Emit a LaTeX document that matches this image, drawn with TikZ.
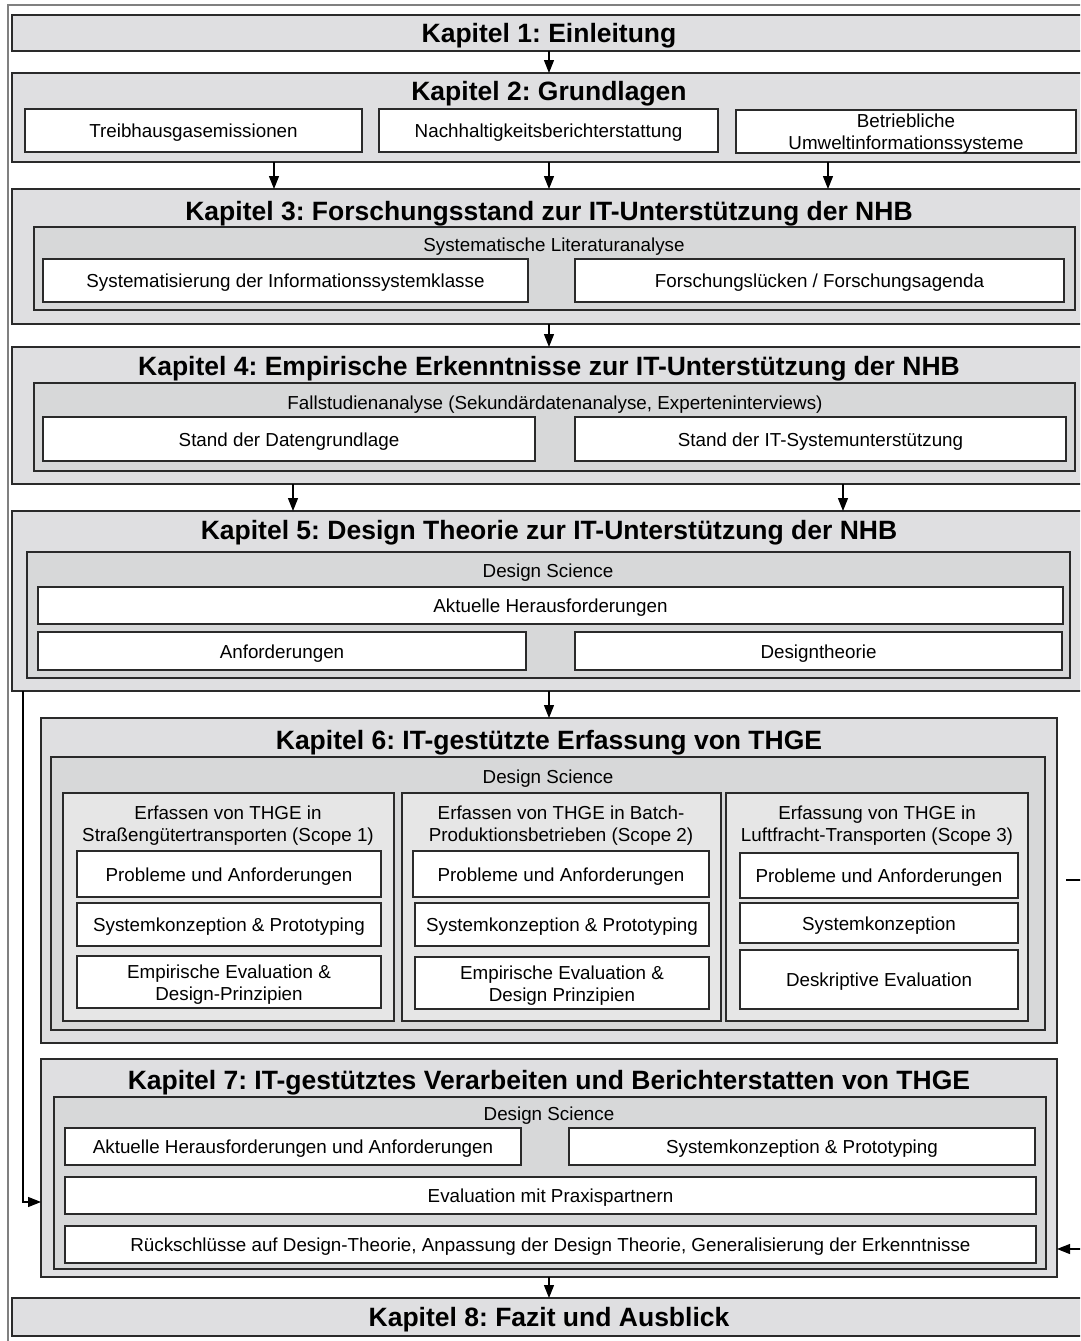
\documentclass[tikz,border=0pt]{standalone}
\usepackage{fontspec}
\setmainfont{Liberation Sans}
\usetikzlibrary{arrows.meta}
\frenchspacing
\definecolor{chapfill}{HTML}{DFDFE1}
\definecolor{grpfill}{HTML}{D7D8D9}
\definecolor{scpfill}{HTML}{E6E6E6}
\definecolor{edge}{HTML}{2A2A2A}
\definecolor{framegray}{HTML}{808080}
\newcommand\myBody{\fontsize{18.8}{22}\selectfont}
\newcommand\myTitle{\fontsize{26.5}{30}\selectfont\bfseries}
\newcommand\bx[7][]{\node[#1,minimum width={(#5-#3)*1pt},minimum height={(#6-#4)*1pt}] (#2) at ({(#3+#5)/2},{(#4+#6)/2}) {};
  \node (#2-t) at ([yshift=-2.5pt]#2.center) {#7};}
\tikzset{
  every node/.style={inner sep=0pt,outer sep=0pt,align=center,font=\myBody},
  chap/.style={draw=edge,line width=1.3pt,fill=chapfill},
  grp/.style={draw=edge,line width=1.3pt,fill=grpfill},
  scp/.style={draw=edge,line width=1.3pt,fill=scpfill},
  wbox/.style={draw=edge,line width=1.3pt,fill=white},
  ttl/.style={font=\myTitle},
  lbl/.style={font=\myBody},
  arr/.style={draw=black,line width=1.2pt,-{Triangle[length=13pt,width=10pt]}}
}
\begin{document}
\begin{tikzpicture}[x=1pt,y=-1pt]
\clip (0,0) rectangle (1080,1341);
\fill[white] (0,0) rectangle (1080,1341);
\draw[framegray,line width=2pt] (8,5) rectangle (1092,1350);
% Kapitel 1
\bx[chap]{k1}{12}{15}{1086}{51}{\myTitle Kapitel 1: Einleitung}
% Kapitel 2
\bx[chap]{k2}{12}{73}{1086}{162}{}
\node[ttl] (k2t) at (549,93.5) {Kapitel 2: Grundlagen};
\bx[wbox]{b21}{25}{109}{362}{152}{Treibhausgasemissionen}
\bx[wbox]{b22}{379}{109}{718}{152}{Nachhaltigkeitsberichterstattung}
\bx[wbox]{b23}{736}{110}{1076}{153}{Betriebliche\\Umweltinformationssysteme}
% Kapitel 3
\bx[chap]{k3}{12}{189}{1086}{324}{}
\node[ttl] (k3t) at (549,213.5) {Kapitel 3: Forschungsstand zur IT-Unterstützung der NHB};
\bx[grp]{g3}{34}{227}{1075}{310}{}
\node[lbl] (g3l) at (554,246.5) {Systematische Literaturanalyse};
\bx[wbox]{b31}{43}{259}{528}{302}{Systematisierung der Informationssystemklasse}
\bx[wbox]{b32}{575}{259}{1064}{302}{Forschungslücken / Forschungsagenda}
% Kapitel 4
\bx[chap]{k4}{12}{347}{1086}{484}{}
\node[ttl] (k4t) at (549,368.5) {Kapitel 4: Empirische Erkenntnisse zur IT-Unterstützung der NHB};
\bx[grp]{g4}{34}{383}{1075}{471}{}
\node[lbl] (g4l) at (555,404.5) {Fallstudienanalyse (Sekundärdatenanalyse, Experteninterviews)};
\bx[wbox]{b41}{43}{417}{535}{461}{Stand der Datengrundlage}
\bx[wbox]{b42}{575}{417}{1066}{461}{Stand der IT-Systemunterstützung}
% Kapitel 5
\bx[chap]{k5}{12}{511}{1086}{691}{}
\node[ttl] (k5t) at (549,532.5) {Kapitel 5: Design Theorie zur IT-Unterstützung der NHB};
\bx[grp]{g5}{27}{552}{1070}{678}{}
\node[lbl] (g5l) at (548,572.5) {Design Science};
\bx[wbox]{b51}{38}{587}{1063}{624}{Aktuelle Herausforderungen}
\bx[wbox]{b52}{38}{632}{526}{670}{Anforderungen}
\bx[wbox]{b53}{575}{632}{1062}{670}{Designtheorie}
% Kapitel 6
\bx[chap]{k6}{41}{718}{1057}{1043}{}
\node[ttl] (k6t) at (549,742.5) {Kapitel 6: IT-gestützte Erfassung von THGE};
\bx[grp]{g6}{51}{757}{1045}{1030}{}
\node[lbl] (g6l) at (548,778.5) {Design Science};
\bx[scp]{s1}{63}{793}{394}{1021}{}
\bx[scp]{s2}{402}{793}{721}{1021}{}
\bx[scp]{s3}{726}{793}{1028}{1021}{}
\node[lbl] (s1l) at (228,825.5) {Erfassen von THGE in\\Straßengütertransporten (Scope 1)};
\node[lbl] (s2l) at (561,825.5) {Erfassen von THGE in Batch-\\Produktionsbetrieben (Scope 2)};
\node[lbl] (s3l) at (877,825.5) {Erfassung von THGE in\\Luftfracht-Transporten (Scope 3)};
\bx[wbox]{b611}{77}{851}{381}{897}{Probleme und Anforderungen}
\bx[wbox]{b612}{77}{903}{381}{946}{Systemkonzeption \& Prototyping}
\bx[wbox]{b613}{77}{956}{381}{1008}{Empirische Evaluation \&\\Design-Prinzipien}
\bx[wbox]{b621}{413}{851}{709}{897}{Probleme und Anforderungen}
\bx[wbox]{b622}{415}{903}{709}{946}{Systemkonzeption \& Prototyping}
\bx[wbox]{b623}{415}{957}{709}{1009}{Empirische Evaluation \&\\Design Prinzipien}
\bx[wbox]{b631}{740}{853}{1018}{898}{Probleme und Anforderungen}
\bx[wbox]{b632}{740}{903}{1018}{943}{Systemkonzeption}
\bx[wbox]{b633}{740}{950}{1018}{1009}{Deskriptive Evaluation}
% Kapitel 7
\bx[chap]{k7}{41}{1059}{1057}{1277}{}
\node[ttl] (k7t) at (549,1082.5) {Kapitel 7: IT-gestütztes Verarbeiten und Berichterstatten von THGE};
\bx[grp]{g7}{54}{1097}{1046}{1269}{}
\node[lbl] (g7l) at (549,1115.5) {Design Science};
\bx[wbox]{b71}{65}{1128}{521}{1165}{Aktuelle Herausforderungen und Anforderungen}
\bx[wbox]{b72}{569}{1128}{1035}{1165}{Systemkonzeption \& Prototyping}
\bx[wbox]{b73}{65}{1177}{1036}{1214}{Evaluation mit Praxispartnern}
\bx[wbox]{b74}{65}{1226}{1036}{1263}{Rückschlüsse auf Design-Theorie, Anpassung der Design Theorie, Generalisierung der Erkenntnisse}
% Kapitel 8
\bx[chap]{k8}{12}{1298}{1086}{1336}{\myTitle Kapitel 8: Fazit und Ausblick}
% connectors
\coordinate (x274) at (274,0);
\coordinate (x549) at (549,0);
\coordinate (x828) at (828,0);
\coordinate (x293) at (293,0);
\coordinate (x843) at (843,0);
\draw[arr] (k1.south) -- (k2.north);
\draw[arr] (k2.south -| x274) -- (k3.north -| x274);
\draw[arr] (k2.south -| x549) -- (k3.north -| x549);
\draw[arr] (k2.south -| x828) -- (k3.north -| x828);
\draw[arr] (k3.south -| x549) -- (k4.north -| x549);
\draw[arr] (k4.south -| x293) -- (k5.north -| x293);
\draw[arr] (k4.south -| x843) -- (k5.north -| x843);
\draw[arr] (k5.south -| x549) -- (k6.north -| x549);
\draw[arr] (k7.south -| x549) -- (k8.north -| x549);
\coordinate (la) at (23,1202);
\draw[arr] (k5.south -| la) -- (la) -- (la -| k7.west);
\coordinate (r1) at (1066,880);
\coordinate (r2) at (1096,880);
\coordinate (r3) at (1096,1249);
\draw[arr] (r1) -- (r2) -- (r3) -- (r3 -| k7.east);
\end{tikzpicture}
\end{document}
